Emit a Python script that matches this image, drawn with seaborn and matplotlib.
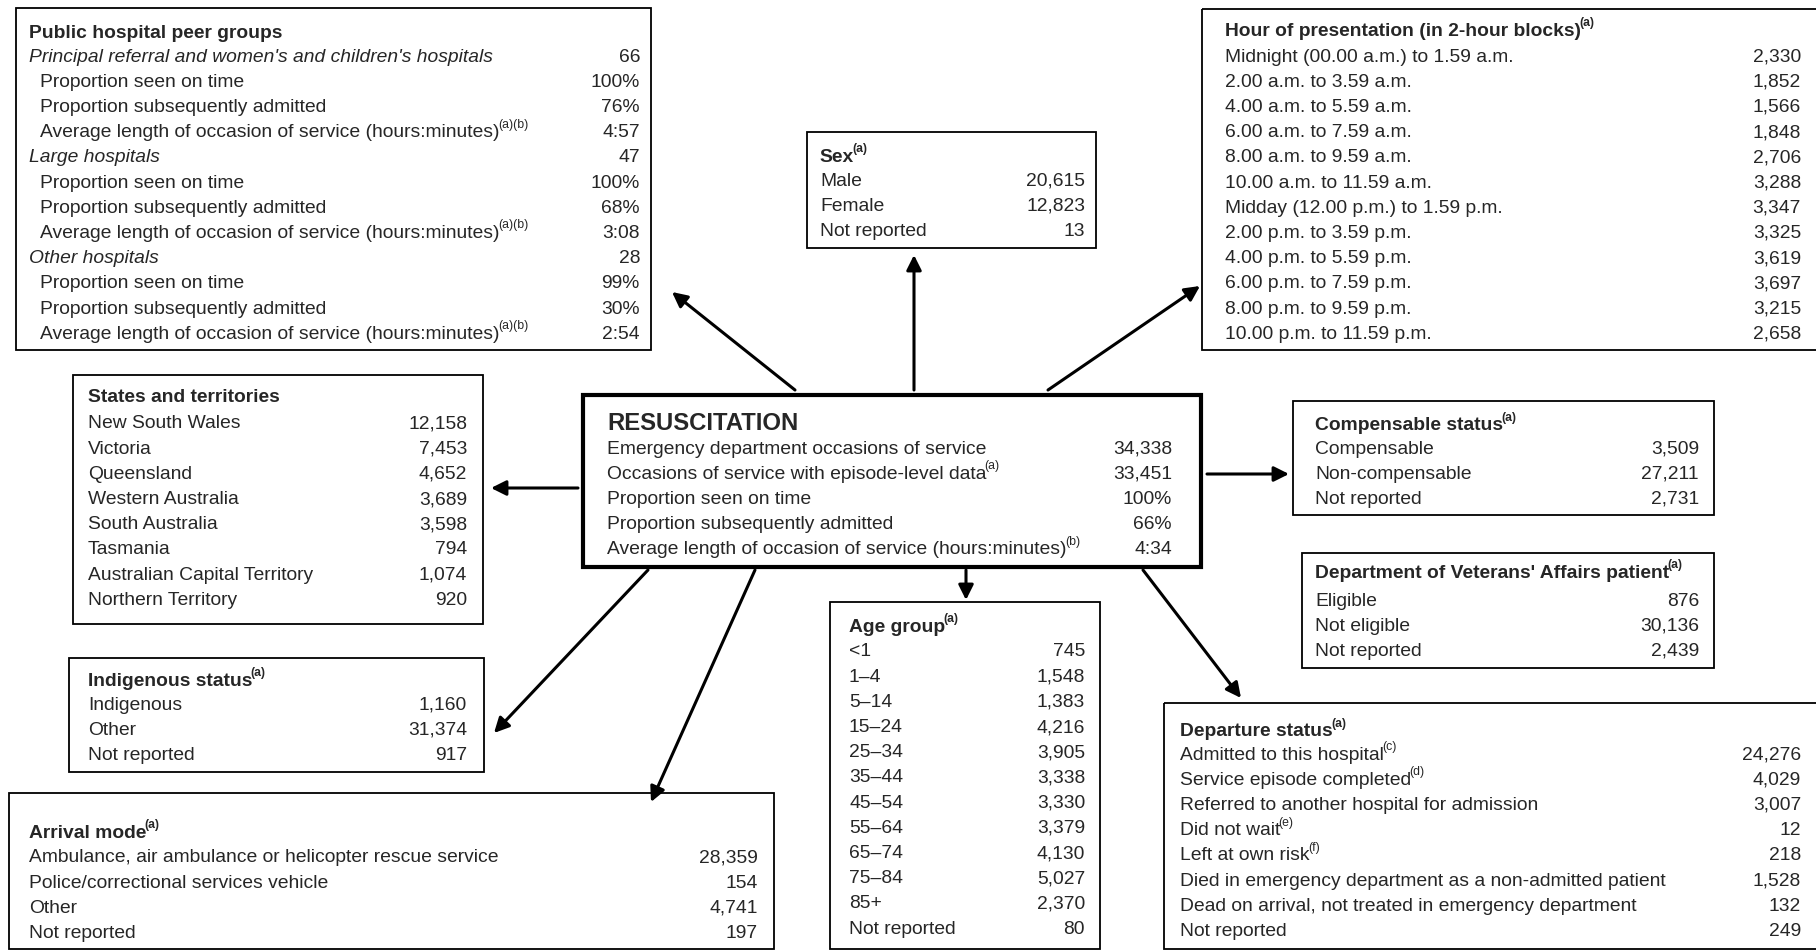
import matplotlib
matplotlib.use("Agg")
import matplotlib.pyplot as plt
from matplotlib.patches import Rectangle
import seaborn as sns

""" Resuscitation triage category: summary diagram of ED occasions of service """

# ---- data ----
summary_labels = ["Emergency department occasions of service",
                  "Occasions of service with episode-level data",
                  "Proportion seen on time",
                  "Proportion subsequently admitted",
                  "Average length of occasion of service (hours:minutes)"]
summary_notes = ["", "(a)", "", "", "(b)"]
summary_values = [34338, 33451, "100%", "66%", "4:34"]

peer_groups = ["Principal referral and women's and children's hospitals",
               "Large hospitals", "Other hospitals"]
peer_counts = [66, 47, 28]
peer_seen_on_time = [100, 100, 99]
peer_admitted = [76, 68, 30]
peer_length = ["4:57", "3:08", "2:54"]

sex_labels = ["Male", "Female", "Not reported"]
sex_values = [20615, 12823, 13]

hour_labels = ["Midnight (00.00 a.m.) to 1.59 a.m.", "2.00 a.m. to 3.59 a.m.",
               "4.00 a.m. to 5.59 a.m.", "6.00 a.m. to 7.59 a.m.",
               "8.00 a.m. to 9.59 a.m.", "10.00 a.m. to 11.59 a.m.",
               "Midday (12.00 p.m.) to 1.59 p.m.", "2.00 p.m. to 3.59 p.m.",
               "4.00 p.m. to 5.59 p.m.", "6.00 p.m. to 7.59 p.m.",
               "8.00 p.m. to 9.59 p.m.", "10.00 p.m. to 11.59 p.m."]
hour_values = [2330, 1852, 1566, 1848, 2706, 3288, 3347, 3325, 3619, 3697, 3215, 2658]

state_labels = ["New South Wales", "Victoria", "Queensland", "Western Australia",
                "South Australia", "Tasmania", "Australian Capital Territory",
                "Northern Territory"]
state_values = [12158, 7453, 4652, 3689, 3598, 794, 1074, 920]

comp_labels = ["Compensable", "Non-compensable", "Not reported"]
comp_values = [3509, 27211, 2731]

dva_labels = ["Eligible", "Not eligible", "Not reported"]
dva_values = [876, 30136, 2439]

indig_labels = ["Indigenous", "Other", "Not reported"]
indig_values = [1160, 31374, 917]

age_labels = ["<1", "1\u20134", "5\u201314", "15\u201324", "25\u201334", "35\u201344",
              "45\u201354", "55\u201364", "65\u201374", "75\u201384", "85+", "Not reported"]
age_values = [745, 1548, 1383, 4216, 3905, 3338, 3330, 3379, 4130, 5027, 2370, 80]

departure_labels = ["Admitted to this hospital", "Service episode completed",
                    "Referred to another hospital for admission", "Did not wait",
                    "Left at own risk",
                    "Died in emergency department as a non-admitted patient",
                    "Dead on arrival, not treated in emergency department",
                    "Not reported"]
departure_notes = ["(c)", "(d)", "", "(e)", "(f)", "", "", ""]
departure_values = [24276, 4029, 3007, 12, 218, 1528, 132, 249]

arrival_labels = ["Ambulance, air ambulance or helicopter rescue service",
                  "Police/correctional services vehicle", "Other", "Not reported"]
arrival_values = [28359, 154, 4741, 197]

# ---- style ----
sns.set_theme(style="white")
plt.rcParams['font.family'] = ['Liberation Sans', 'DejaVu Sans']
FS = 13.9
SUP = 8.8
STEP = 25.2

fig = plt.figure(figsize=(18.16, 9.51), dpi=100)
ax = fig.add_axes([0, 0, 1, 1])
ax.set_xlim(0, 1816)
ax.set_ylim(951, 0)
ax.axis('off')


def fmt(v):
    return f"{v:,}" if isinstance(v, int) else str(v)


def add_sup(t, note, bold=False):
    # small raised footnote marker right after the label
    ax.annotate(note, xy=(1, 1), xycoords=t, xytext=(-1.2, 4), textcoords='offset points',
                ha='left', va='top', fontsize=SUP, fontweight='bold' if bold else 'normal')


def plain(labels, values, notes=None, indent=0, italic=False):
    notes = notes or [""] * len(labels)
    return [(l, v, indent, italic, n) for l, v, n in zip(labels, values, notes)]


def panel(box, text_x, value_x, title_y, row_y, title, rows, title_sup=None,
          lw=1.3, title_size=FS):
    x0, y0, x1, y1 = box
    ax.add_patch(Rectangle((x0, y0), x1 - x0, y1 - y0, fill=False, lw=lw, ec='black'))
    t = ax.text(text_x, title_y, title, fontsize=title_size, fontweight='bold', va='center')
    if title_sup:
        add_sup(t, title_sup, bold=True)
    for i, (label, value, indent, italic, note) in enumerate(rows):
        y = row_y + i * STEP
        t = ax.text(text_x + indent, y, label, fontsize=FS, va='center',
                    style='italic' if italic else 'normal')
        if note:
            add_sup(t, note)
        if value != "":
            ax.text(value_x, y, fmt(value), fontsize=FS, va='center', ha='right')


# public hospital peer groups
peer_rows = []
for g, n, s, a, l in zip(peer_groups, peer_counts, peer_seen_on_time, peer_admitted, peer_length):
    peer_rows.append((g, n, 0, True, ""))
    peer_rows += plain(["Proportion seen on time", "Proportion subsequently admitted",
                        "Average length of occasion of service (hours:minutes)"],
                       [f"{s}%", f"{a}%", l], ["", "", "(a)(b)"], indent=11)
panel((16, 8, 651, 350), 29, 640, 33, 57, "Public hospital peer groups", peer_rows)

panel((807, 132, 1096, 248), 820, 1085, 157, 181, "Sex", plain(sex_labels, sex_values), "(a)")
panel((1202, 9, 1830, 350), 1225, 1801, 31, 57, "Hour of presentation (in 2-hour blocks)",
      plain(hour_labels, hour_values), "(a)")
panel((73, 375, 483, 624), 88, 467, 398, 424, "States and territories",
      plain(state_labels, state_values))
panel((583, 395, 1201, 567), 607, 1172, 424, 449, "RESUSCITATION",
      plain(summary_labels, summary_values, summary_notes), lw=3, title_size=17.2)
panel((1293, 401, 1714, 515), 1315, 1699, 426, 449, "Compensable status",
      plain(comp_labels, comp_values), "(a)")
panel((1302, 553, 1714, 668), 1315, 1699, 573, 601, "Department of Veterans' Affairs patient",
      plain(dva_labels, dva_values), "(a)")
panel((69, 658, 484, 772), 88, 467, 681, 705, "Indigenous status",
      plain(indig_labels, indig_values), "(a)")
panel((830, 602, 1100, 949), 849, 1085, 627, 652, "Age group",
      plain(age_labels, age_values), "(a)")
panel((1164, 703, 1830, 949), 1180, 1801, 732, 755, "Departure status",
      plain(departure_labels, departure_values, departure_notes), "(a)")
panel((9, 793, 774, 949), 29, 758, 833, 858, "Arrival mode",
      plain(arrival_labels, arrival_values), "(a)")

# arrows from the central box
arrows = [((795, 390), (672, 292)), ((914, 390), (914, 255)), ((1048, 390), (1200, 286)),
          ((578, 488), (491, 488)), ((1207, 474), (1289, 474)), ((966, 570), (966, 600)),
          ((648, 570), (494, 733)), ((755, 570), (651, 802)), ((1143, 570), (1241, 698))]
for start, end in arrows:
    ax.annotate('', xy=end, xytext=start,
                arrowprops=dict(arrowstyle='-|>,head_length=0.6,head_width=0.3',
                                mutation_scale=15, lw=2.2, color='black',
                                shrinkA=0, shrinkB=0))

fig.savefig('out.png', dpi=100)
